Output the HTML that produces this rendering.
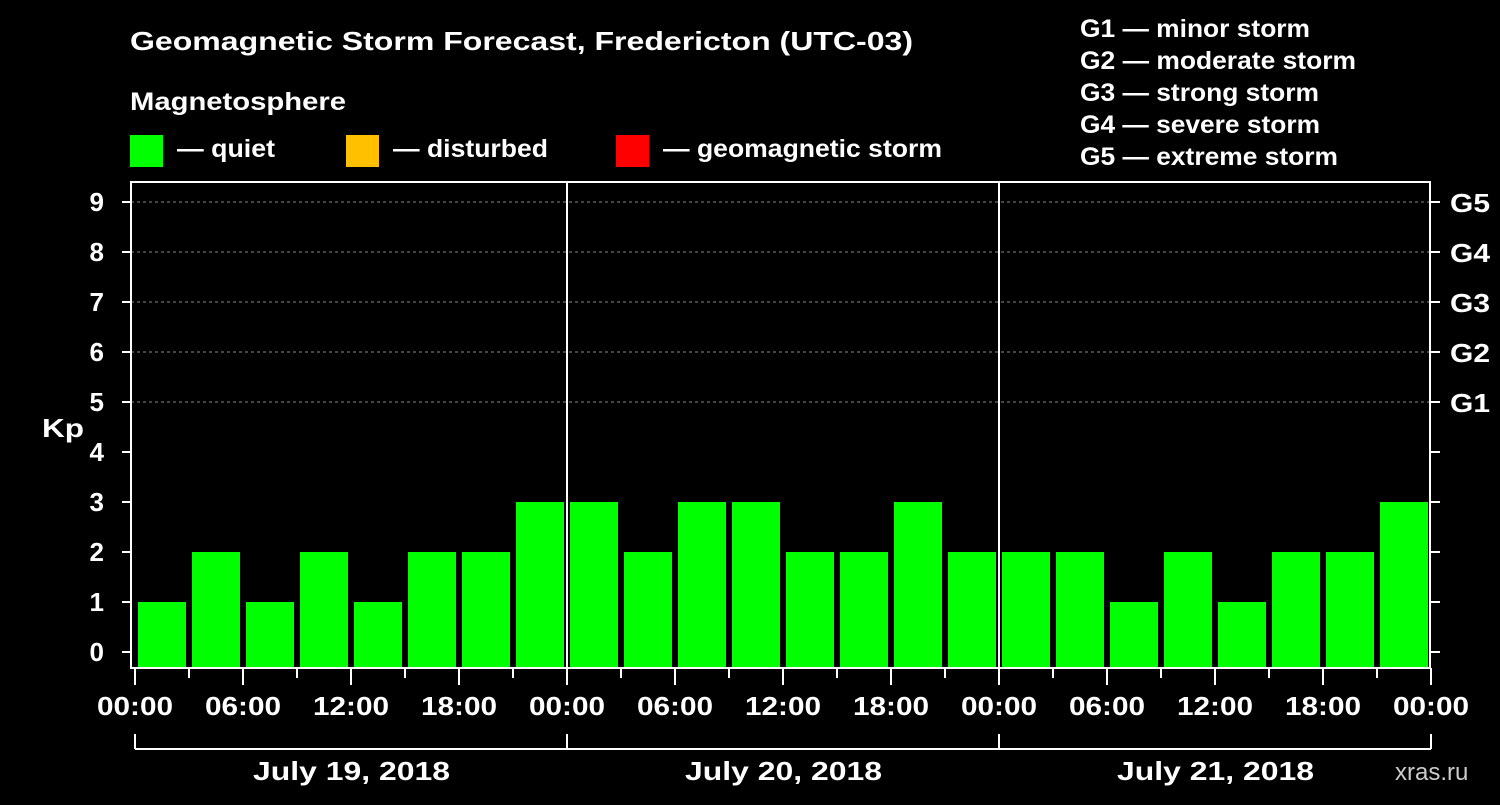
<!DOCTYPE html>
<html><head><meta charset="utf-8"><style>
body{margin:0;background:#000;width:1500px;height:800px;overflow:hidden}
svg text{font-family:"Liberation Sans",Arial,sans-serif;font-weight:bold;fill:#fff}
</style></head><body>
<svg width="1500" height="800" id="c">
<text x="130" y="50" font-size="26" textLength="783" lengthAdjust="spacingAndGlyphs">Geomagnetic Storm Forecast, Fredericton (UTC-03)</text>
<text x="130" y="110" font-size="25" textLength="216" lengthAdjust="spacingAndGlyphs">Magnetosphere</text>
<g><rect x="130" y="135" width="33" height="32" fill="#00ff00"/><text x="177" y="157" font-size="25" textLength="98" lengthAdjust="spacingAndGlyphs">— quiet</text></g>
<g><rect x="346" y="135" width="33" height="32" fill="#ffc000"/><text x="393" y="157" font-size="25" textLength="155" lengthAdjust="spacingAndGlyphs">— disturbed</text></g>
<g><rect x="616" y="135" width="33" height="32" fill="#ff0000"/><text x="663" y="157" font-size="25" textLength="279" lengthAdjust="spacingAndGlyphs">— geomagnetic storm</text></g>
<g font-size="25">
<text x="1080" y="37" textLength="230" lengthAdjust="spacingAndGlyphs">G1 — minor storm</text><text x="1080" y="69" textLength="276" lengthAdjust="spacingAndGlyphs">G2 — moderate storm</text><text x="1080" y="101" textLength="239" lengthAdjust="spacingAndGlyphs">G3 — strong storm</text><text x="1080" y="133" textLength="240" lengthAdjust="spacingAndGlyphs">G4 — severe storm</text><text x="1080" y="165" textLength="258" lengthAdjust="spacingAndGlyphs">G5 — extreme storm</text></g>
<text x="42" y="437" font-size="26" textLength="42" lengthAdjust="spacingAndGlyphs">Kp</text>
<text x="1395" y="780" font-size="24" style="fill:#ccc;font-weight:normal">xras.ru</text>
<g id="plot"></g>
</svg>
<script>
const kpValues=[1,2,1,2,1,2,2,3, 3,2,3,3,2,2,3,2, 2,2,1,2,1,2,2,3];
const hourLabels=["00:00","06:00","12:00","18:00"];
const dayLabels=["July 19, 2018","July 20, 2018","July 21, 2018"];
const gLabels=["G1","G2","G3","G4","G5"];
const NS="http://www.w3.org/2000/svg";
const g=document.getElementById('plot');
const X0=135,DAY=432,SLOT=DAY/8,L=131,R=1430,T=182,B=668;
const y=v=>652-50*v;
function mk(t,a,txt){const e=document.createElementNS(NS,t);for(const k in a)e.setAttribute(k,a[k]);if(txt!=null)e.textContent=txt;g.appendChild(e);return e;}
for(let v=5;v<=9;v++){const e=mk('line',{x1:L,x2:R,y1:y(v),y2:y(v),stroke:'#888','stroke-dasharray':'3,3'});}
kpValues.forEach((v,i)=>{const col=v>=5?'#ff0000':v>=4?'#ffc000':'#00ff00';
const e=mk('rect',{x:X0+SLOT*i+3,y:y(v),width:SLOT-6,height:B-1-y(v),fill:col});
});
const f=mk('rect',{x:L,y:T,width:R-L,height:B-T,fill:'none',stroke:'#fff','stroke-width':2});

for(let d=1;d<3;d++){const e=mk('line',{x1:X0+DAY*d,x2:X0+DAY*d,y1:T,y2:B,stroke:'#fff','stroke-width':2});}
for(let v=0;v<=9;v++){mk('line',{x1:122,x2:L,y1:y(v),y2:y(v),stroke:'#fff','stroke-width':2});mk('line',{x1:R,x2:1440,y1:y(v),y2:y(v),stroke:'#fff','stroke-width':2});
const t=mk('text',{x:104,y:y(v)+9,'font-size':26,'text-anchor':'end'},String(v));}
gLabels.forEach((s,i)=>{const t=mk('text',{x:1450,y:y(5+i)+10,'font-size':26,textLength:40,lengthAdjust:'spacingAndGlyphs'},s);});
for(let i=0;i<=24;i++){const x=X0+SLOT*i,maj=i%2==0;mk('line',{x1:x,x2:x,y1:B,y2:maj?685:678,stroke:'#fff','stroke-width':2});
if(maj){const t=mk('text',{x:x-38,y:715,'font-size':26,textLength:76,lengthAdjust:'spacingAndGlyphs'},i==24?hourLabels[0]:hourLabels[(i/2)%4]);}}
mk('line',{x1:X0,x2:X0+DAY*3,y1:749,y2:749,stroke:'#fff','stroke-width':2});
for(let d=0;d<=3;d++)mk('line',{x1:X0+DAY*d,x2:X0+DAY*d,y1:734,y2:749,stroke:'#fff','stroke-width':2});
dayLabels.forEach((s,d)=>{const t=mk('text',{x:X0+DAY*d+DAY/2-98,y:780,'font-size':26,textLength:197,lengthAdjust:'spacingAndGlyphs'},s);});
</script>
</body></html>
